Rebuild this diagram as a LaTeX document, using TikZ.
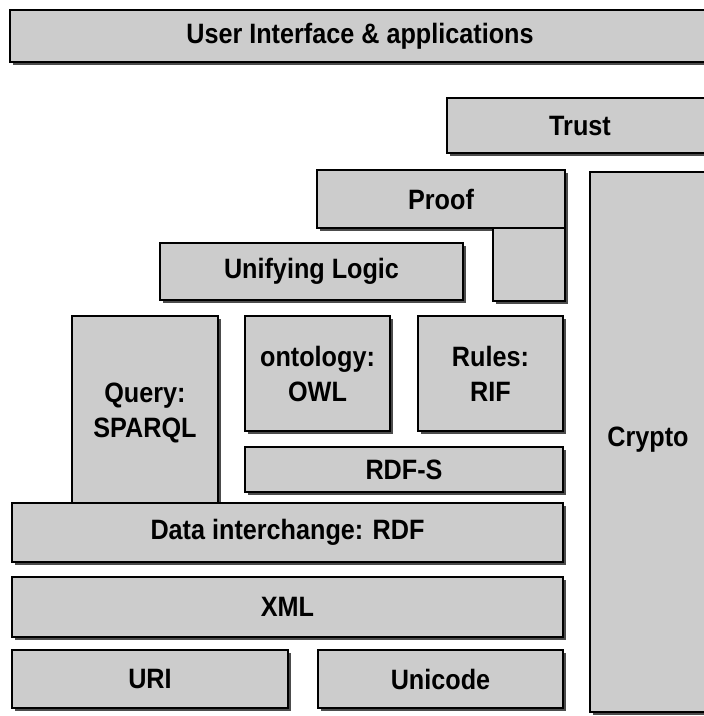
\documentclass[tikz,border=0pt]{standalone}
\usepackage{fontspec}
\setmainfont{Liberation Sans}[FakeStretch=0.9]
\usetikzlibrary{shadows}

\tikzset{
  layer/.style={draw=black, line width=1.4pt, fill=gray!40, anchor=north west,
    inner sep=0pt, outer sep=0pt, align=center,
    font=\fontsize{28}{35}\selectfont\bfseries,
    drop shadow={shadow xshift=2.5pt, shadow yshift=-3pt, fill=black!70, opacity=1}},
  label text/.style={font=\fontsize{28}{35}\selectfont\bfseries}
}

\begin{document}
\begin{tikzpicture}[x=1pt,y=-1pt]
    \useasboundingbox (0,0) rectangle (704,716);
    \clip (0,0) rectangle (704,716);

    % Top of the stack
    \node[layer, minimum width=700pt, minimum height=52pt] (ui) at (10,10) {User Interface \& applications};
    \node[layer, minimum width=266pt, minimum height=55pt] (trust) at (447,98) {Trust};

    % Crypto column on the right
    \node[layer, minimum width=118pt, minimum height=540pt] (crypto) at (590,172) {};
    \node[label text] (cryptotext) at (648,440) {Crypto};

    % Proof with its leg
    \node[layer, minimum width=248pt, minimum height=58pt] (proof) at (317,170) {Proof};
    \node[layer, anchor=north east, minimum width=72pt, minimum height=73pt] (proofleg) at (proof.south east) {};

    \node[layer, minimum width=303pt, minimum height=57pt] (logic) at (160,243) {Unifying Logic};

    % Query, ontology and rules
    \node[layer, minimum width=146pt, minimum height=193pt] (query) at (72,316) {Query:\\SPARQL};
    \node[layer, minimum width=145pt, minimum height=115pt] (owl) at (245,316) {ontology:\\OWL};
    \node[layer, minimum width=145pt, minimum height=115pt] (rif) at (418,316) {Rules:\\RIF};
    \node[layer, minimum width=318pt, minimum height=45pt] (rdfs) at (245,447) {RDF-S};

    % Lower layers
    \node[layer, minimum width=551pt, minimum height=59pt] (rdf) at (12,503) {Data interchange: RDF};
    \node[layer, minimum width=551pt, minimum height=60pt] (xml) at (12,577) {XML};
    \node[layer, minimum width=276pt, minimum height=58pt] (uri) at (12,650) {URI};
    \node[layer, minimum width=245pt, minimum height=58pt] (unicode) at (318,650) {Unicode};
\end{tikzpicture}
\end{document}
